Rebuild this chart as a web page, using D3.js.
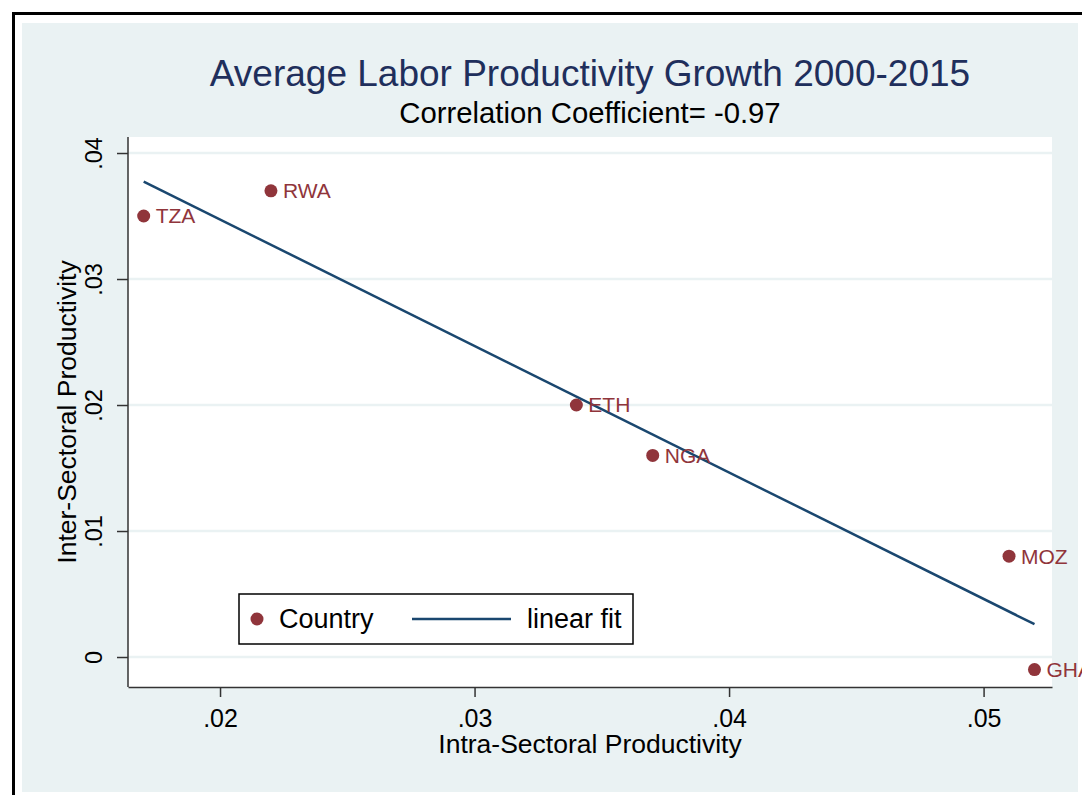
<!DOCTYPE html>
<html>
<head>
<meta charset="utf-8">
<script src="https://cdn.jsdelivr.net/npm/d3@7"></script>
<style>
  html, body { margin: 0; padding: 0; background: #ffffff; }
  svg { display: block; font-family: "Liberation Sans", Arial, sans-serif; }
</style>
</head>
<body>
<svg id="chart" width="1082" height="795"></svg>
<script>
// Country-level averages, 2000-2015
const countries = ["TZA", "RWA", "ETH", "NGA", "MOZ", "GHA"];
const intraSectoral = [0.017, 0.022, 0.034, 0.037, 0.051, 0.052];
const interSectoral = [0.035, 0.037, 0.020, 0.016, 0.008, -0.001];

const xTicks = [0.02, 0.03, 0.04, 0.05];
const xTickLabels = [".02", ".03", ".04", ".05"];
const yTicks = [0, 0.01, 0.02, 0.03, 0.04];
const yTickLabels = ["0", ".01", ".02", ".03", ".04"];

const titleText = "Average Labor Productivity Growth 2000-2015";
const subtitleText = "Correlation Coefficient= -0.97";
const xTitle = "Intra-Sectoral Productivity";
const yTitle = "Inter-Sectoral Productivity";
const legendLabels = ["Country", "linear fit"];

const points = countries.map((c, i) => ({ name: c, x: intraSectoral[i], y: interSectoral[i] }));

// Ordinary least squares fit of inter- on intra-sectoral productivity
const mx = d3.mean(intraSectoral), my = d3.mean(interSectoral);
const sxy = d3.sum(points, p => (p.x - mx) * (p.y - my));
const sxx = d3.sum(points, p => (p.x - mx) ** 2);
const slope = sxy / sxx, intercept = my - slope * mx;
const [fitX0, fitX1] = d3.extent(intraSectoral);
const fitLine = [
  { x: fitX0, y: intercept + slope * fitX0 },
  { x: fitX1, y: intercept + slope * fitX1 }
];

const svg = d3.select("#chart");

const plot = { left: 128, right: 1052, top: 137, bottom: 687 };
const x = d3.scaleLinear().domain([0.016384, 0.052688]).range([plot.left, plot.right]);
const y = d3.scaleLinear().domain([-0.00238, 0.041271]).range([plot.bottom, plot.top]);

const maroon = "#90353b";
const navy = "#1a476f";
const regionFill = "#eaf2f3";

// Outer frame and graph region
svg.append("line").attr("x1", 12).attr("x2", 1082).attr("y1", 13.5).attr("y2", 13.5)
  .attr("stroke", "#000").attr("stroke-width", 3);
svg.append("line").attr("x1", 13.5).attr("x2", 13.5).attr("y1", 12).attr("y2", 795)
  .attr("stroke", "#000").attr("stroke-width", 3);
svg.append("rect").attr("x", 22).attr("y", 23).attr("width", 1056).attr("height", 769)
  .attr("fill", regionFill);

// Plot area
svg.append("rect").attr("x", plot.left).attr("y", plot.top)
  .attr("width", plot.right - plot.left).attr("height", plot.bottom - plot.top)
  .attr("fill", "#ffffff");

// Horizontal gridlines
svg.append("g").selectAll("line").data(yTicks).join("line")
  .attr("x1", plot.left).attr("x2", plot.right)
  .attr("y1", d => y(d)).attr("y2", d => y(d))
  .attr("stroke", regionFill).attr("stroke-width", 2.5);

// Axes
const xAxis = d3.axisBottom(x).tickValues(xTicks)
  .tickFormat((d, i) => xTickLabels[i]).tickSize(10).tickSizeOuter(0);
const gx = svg.append("g").attr("transform", `translate(0,${plot.bottom})`).call(xAxis);
gx.select(".domain").attr("stroke", "#333").attr("stroke-width", 1.5);
gx.selectAll(".tick line").attr("stroke", "#333").attr("stroke-width", 1.5);
gx.selectAll(".tick text").attr("font-size", 25).attr("fill", "#000")
  .attr("font-family", "Liberation Sans, Arial, sans-serif")
  .attr("dy", null).attr("y", 40);

const yAxis = d3.axisLeft(y).tickValues(yTicks)
  .tickFormat((d, i) => yTickLabels[i]).tickSize(11).tickSizeOuter(0);
const gy = svg.append("g").attr("transform", `translate(${plot.left},0)`).call(yAxis);
gy.select(".domain").attr("stroke", "#333").attr("stroke-width", 1.5)
  .attr("d", `M0,${plot.top}V${plot.bottom}`);
gy.selectAll(".tick line").attr("stroke", "#333").attr("stroke-width", 1.5);
gy.selectAll(".tick text")
  .attr("font-size", 23.5).attr("fill", "#000")
  .attr("font-family", "Liberation Sans, Arial, sans-serif")
  .attr("x", null).attr("dy", null)
  .attr("text-anchor", "middle")
  .attr("transform", "translate(-26,0) rotate(-90)");

// Axis titles
svg.append("text").attr("x", (plot.left + plot.right) / 2).attr("y", 753)
  .attr("text-anchor", "middle").attr("font-size", 26.5).attr("fill", "#000").text(xTitle);
svg.append("text")
  .attr("transform", `translate(76,${(plot.top + plot.bottom) / 2}) rotate(-90)`)
  .attr("text-anchor", "middle").attr("font-size", 26.5).attr("fill", "#000").text(yTitle);

// Titles
svg.append("text").attr("x", (plot.left + plot.right) / 2).attr("y", 86)
  .attr("text-anchor", "middle").attr("font-size", 37).attr("fill", "#1f2f5c").text(titleText);
svg.append("text").attr("x", (plot.left + plot.right) / 2).attr("y", 123)
  .attr("text-anchor", "middle").attr("font-size", 29.3).attr("fill", "#000").text(subtitleText);

// Fitted line
svg.append("path").datum(fitLine)
  .attr("d", d3.line().x(d => x(d.x)).y(d => y(d.y)))
  .attr("fill", "none").attr("stroke", navy).attr("stroke-width", 2.5);

// Country markers and labels
const pts = svg.append("g").selectAll("g").data(points).join("g")
  .attr("transform", d => `translate(${x(d.x)},${y(d.y)})`);
pts.append("circle").attr("r", 6.5).attr("fill", maroon);
pts.append("text").attr("x", 12).attr("dy", "0.35em")
  .attr("font-size", 21).attr("fill", maroon).text(d => d.name);

// Legend
const lg = svg.append("g").attr("transform", "translate(239,594)");
lg.append("rect").attr("width", 394).attr("height", 50)
  .attr("fill", "#fff").attr("stroke", "#000").attr("stroke-width", 1.5);
lg.append("circle").attr("cx", 18).attr("cy", 25).attr("r", 6.5).attr("fill", maroon);
lg.append("text").attr("x", 40).attr("y", 25).attr("dy", "0.35em")
  .attr("font-size", 27).attr("fill", "#000").text(legendLabels[0]);
lg.append("line").attr("x1", 173).attr("x2", 272).attr("y1", 25).attr("y2", 25)
  .attr("stroke", navy).attr("stroke-width", 2.5);
lg.append("text").attr("x", 288).attr("y", 25).attr("dy", "0.35em")
  .attr("font-size", 27).attr("fill", "#000").text(legendLabels[1]);
</script>
</body>
</html>
